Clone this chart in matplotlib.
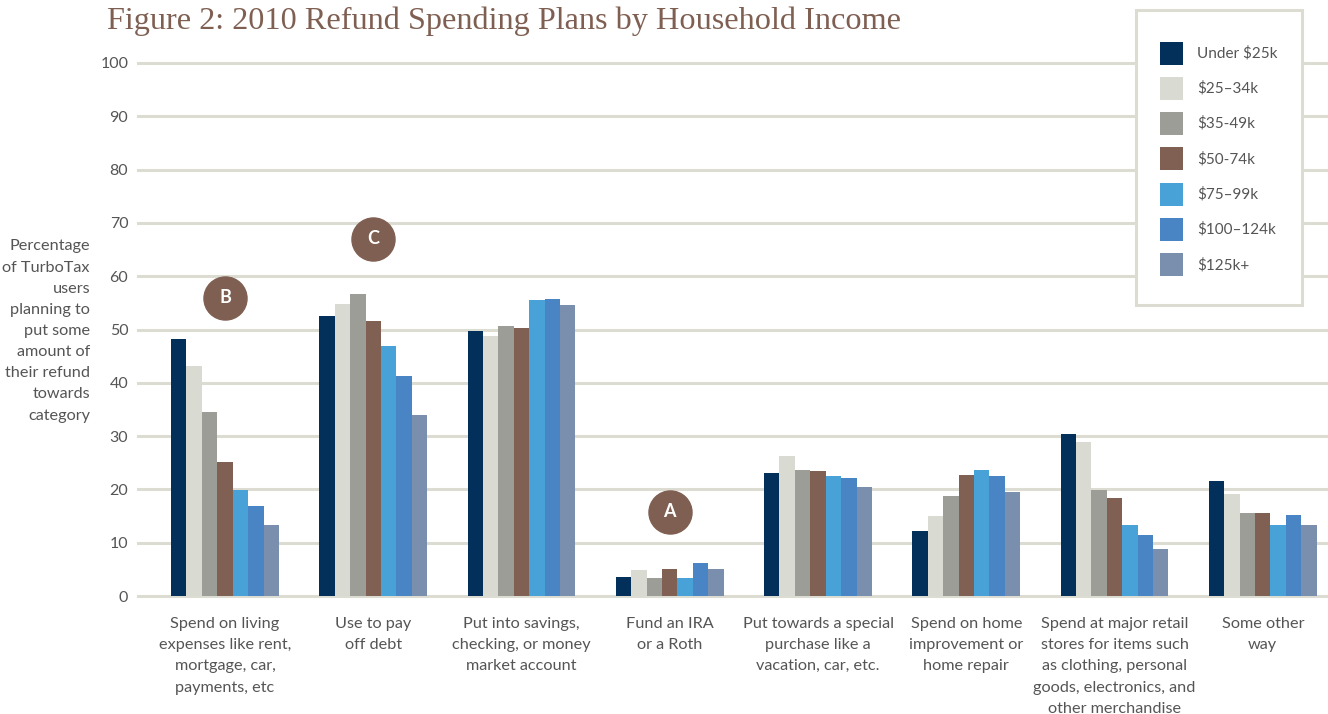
import matplotlib.pyplot as plt
import numpy as np
from matplotlib.patches import Rectangle

# --- Data ---
categories = [
    "Spend on living\nexpenses like rent,\nmortgage, car,\npayments, etc",
    "Use to pay\noff debt",
    "Put into savings,\nchecking, or money\nmarket account",
    "Fund an IRA\nor a Roth",
    "Put towards a special\npurchase like a\nvacation, car, etc.",
    "Spend on home\nimprovement or\nhome repair",
    "Spend at major retail\nstores for items such\nas clothing, personal\ngoods, electronics, and\nother merchandise",
    "Some other\nway",
]
income_groups = ["Under $25k", "$25\u201334k", "$35-49k", "$50-74k",
                 "$75\u201399k", "$100\u2013124k", "$125k+"]

under_25k = [48.2, 52.5, 49.8, 3.6, 23.0, 12.2, 30.4, 21.6]
k25_34 = [43.2, 54.8, 48.7, 4.8, 26.3, 15.0, 28.8, 19.2]
k35_49 = [34.5, 56.6, 50.7, 3.4, 23.7, 18.8, 19.8, 15.6]
k50_74 = [25.2, 51.6, 50.3, 5.1, 23.5, 22.7, 18.4, 15.6]
k75_99 = [19.8, 46.9, 55.5, 3.4, 22.6, 23.6, 13.3, 13.3]
k100_124 = [16.9, 41.3, 55.7, 6.1, 22.2, 22.5, 11.5, 15.2]
k125_plus = [13.3, 34.0, 54.6, 5.1, 20.5, 19.5, 8.9, 13.3]
series = [under_25k, k25_34, k35_49, k50_74, k75_99, k100_124, k125_plus]

colors = ["#03305a", "#d9dad2", "#9d9d98", "#806052",
          "#48a1d7", "#4985c4", "#7a8fad"]

# annotation circles: (category index, value, letter)
callouts = [(0, 56.0, "B"), (1, 67.0, "C"), (3, 15.8, "A")]

# --- Style ---
plt.rcParams['font.family'] = ['Lato', 'DejaVu Sans']
BROWN = "#7f5f52"
GRID = "#dcdcd3"
TEXT = "#555555"

fig = plt.figure(figsize=(13.28, 7.14), dpi=100)
ax = fig.add_axes([138 / 1328, 1 - 596 / 714, 1 - 138 / 1328, (596 - 63) / 714])

x = np.arange(len(categories))
width = 0.104
for i, (vals, col) in enumerate(zip(series, colors)):
    ax.bar(x + (i - 3) * width, vals, width, color=col, zorder=3,
           label=income_groups[i])

ax.set_xlim(-0.587, 7.44)
ax.set_ylim(0, 100)
for yv in range(0, 101, 10):
    ax.axhline(yv, color=GRID, lw=2.2, zorder=1, clip_on=False)

for s in ax.spines.values():
    s.set_visible(False)
ax.set_yticks(range(0, 101, 10))
ax.set_yticklabels([str(v) for v in range(0, 101, 10)], fontsize=11.5, color=TEXT)
ax.tick_params(axis='y', length=0, pad=7)
ax.set_xticks([])

for xi, cat in zip(x, categories):
    ax.text(xi, -3.9, cat, ha='center', va='top', fontsize=11.7, color=TEXT,
            linespacing=1.66)

# callouts
for ci, yv, letter in callouts:
    ax.plot(ci, yv, 'o', ms=31, color=BROWN, zorder=5, clip_on=False)
    ax.text(ci, yv, letter, ha='center', va='center', color='white',
            fontsize=13, fontweight='bold', zorder=6)

# y label
fig.text(90 / 1328, 1 - 331 / 714,
         "Percentage\nof TurboTax\nusers\nplanning to\nput some\namount of\ntheir refund\ntowards\ncategory",
         ha='right', va='center', fontsize=11.7, color=TEXT, linespacing=1.65)

# title
fig.text(107 / 1328, 1 - 21 / 714, "Figure 2: 2010 Refund Spending Plans by Household Income",
         ha='left', va='center', fontsize=23.2, color=BROWN, family='Liberation Serif')

# legend box
fig.patches.append(Rectangle((1136 / 1328, 1 - 305 / 714), 166 / 1328, 295 / 714,
                             transform=fig.transFigure, facecolor='white',
                             edgecolor=GRID, lw=2.2, zorder=10))
for i, (lab, col) in enumerate(zip(income_groups, colors)):
    yc = 53 + i * 35.3
    fig.patches.append(Rectangle((1160 / 1328, 1 - (yc + 11.5) / 714), 23 / 1328, 23 / 714,
                                 transform=fig.transFigure, facecolor=col,
                                 edgecolor='none', zorder=11))
    fig.text(1197 / 1328, 1 - yc / 714, lab, ha='left', va='center',
             fontsize=11, color=TEXT, zorder=12)

fig.savefig("out.png", dpi=100, facecolor='white')
